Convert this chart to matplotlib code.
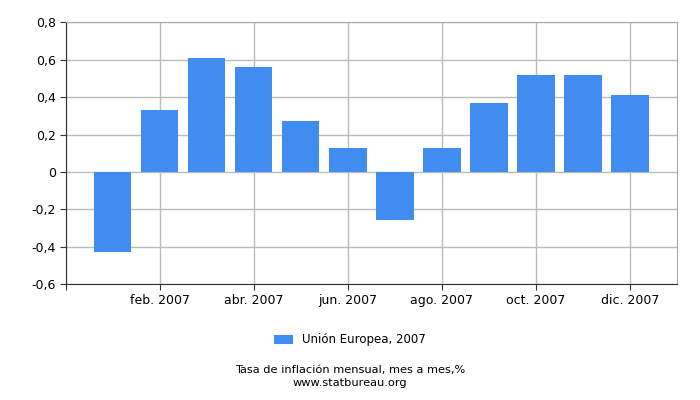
import numpy as np
from matplotlib import pyplot as plt

months = np.arange(1, 13)
values = [-0.43, 0.33, 0.61, 0.56, 0.27, 0.13, -0.26, 0.13, 0.37, 0.52, 0.52, 0.41]
tick_pos = [0, 2, 4, 6, 8, 10, 12]
tick_labels = ['', 'feb. 2007', 'abr. 2007', 'jun. 2007', 'ago. 2007', 'oct. 2007', 'dic. 2007']
y_ticks = [-0.6, -0.4, -0.2, 0, 0.2, 0.4, 0.6, 0.8]
y_labels = ['-0,6', '-0,4', '-0,2', '0', '0,2', '0,4', '0,6', '0,8']

plt.rcParams['font.family'] = ['DejaVu Sans']
fig = plt.figure(figsize=(7, 4), dpi=100)
ax = fig.add_axes([0.0936, 0.29, 0.8734, 0.654])

ax.bar(months, values, width=0.8, color='#418cf0', zorder=3, label='Unión Europea, 2007')
ax.set_xlim(0, 13)
ax.set_ylim(-0.6, 0.8)
ax.set_xticks(tick_pos)
ax.set_xticklabels(tick_labels, fontsize=9)
ax.set_yticks(y_ticks)
ax.set_yticklabels(y_labels, fontsize=9)
ax.grid(True, color='#bbbbbb', linewidth=1, zorder=0)
for s in ax.spines.values():
    s.set_color('#aaaaaa')
ax.spines['left'].set_color('#333333')
ax.spines['bottom'].set_color('#333333')
ax.tick_params(axis='both', length=4, color='#333333', pad=3)

fig.legend(loc='center', bbox_to_anchor=(0.5, 0.15), frameon=False, fontsize=8.5,
           handlelength=1.6, handleheight=0.8)
fig.text(0.5, 0.075, 'Tasa de inflación mensual, mes a mes,%', ha='center', va='center', fontsize=8.2)
fig.text(0.5, 0.043, 'www.statbureau.org', ha='center', va='center', fontsize=8.2)

plt.savefig('out.png', dpi=100)
